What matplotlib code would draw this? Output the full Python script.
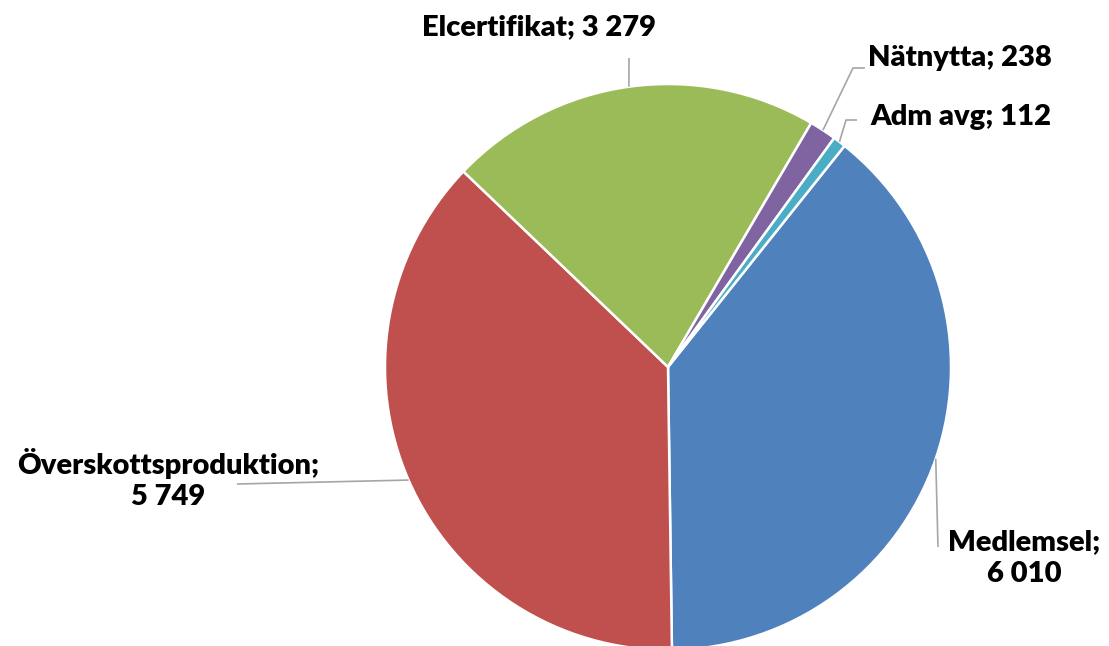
import numpy as np
import matplotlib.pyplot as plt

labels = ['Medlemsel', 'Överskottsproduktion', 'Elcertifikat', 'Nätnytta', 'Adm avg']
values = [6010, 5749, 3279, 238, 112]
value_text = ['6 010', '5 749', '3 279', '238', '112']
colors = ['#4F81BD', '#C0504D', '#9BBB59', '#8064A2', '#4BACC6']

W, H = 1109, 646
cx, cy, R = 668, H - 367, 283
start = 51.4

fig = plt.figure(figsize=(W / 100, H / 100), dpi=100)
ax = fig.add_axes((0, 0, 1, 1))

wedges, _ = ax.pie(values, colors=colors, startangle=start, counterclock=False,
                   center=(cx, cy), radius=R, frame=True,
                   wedgeprops=dict(edgecolor='white', linewidth=1.8))
ax.set_xlim(0, W)
ax.set_ylim(0, H)
ax.set_aspect('equal')
ax.axis('off')

font = dict(family=['Lato', 'DejaVu Sans'], fontweight='heavy', fontsize=21, color='black')
lc = '#A6A6A6'


def rim(w):
    a = np.deg2rad((w.theta1 + w.theta2) / 2)
    return cx + R * np.cos(a), cy + R * np.sin(a)


# label layout: (text, x, y, ha, leader path after the rim point)
layout = [
    (f'{labels[0]};\n{value_text[0]}', 1024, H - 558, 'center', [(938, H - 547)]),
    (f'{labels[1]};\n{value_text[1]}', 168, H - 479, 'center', [(237, H - 484)]),
    (f'{labels[2]}; {value_text[2]}', 539, H - 27, 'center', [(629, H - 58)]),
    (f'{labels[3]}; {value_text[3]}', 868, H - 58, 'left', [(853, H - 68), (865, H - 68)]),
    (f'{labels[4]}; {value_text[4]}', 870, H - 117, 'left', [(846, H - 120), (857, H - 120)]),
]

for w, (txt, tx, ty, ha, path) in zip(wedges, layout):
    x0, y0 = rim(w)
    xs = [x0] + [p[0] for p in path]
    ys = [y0] + [p[1] for p in path]
    ax.plot(xs, ys, color=lc, lw=1.2, solid_capstyle='butt')
    ax.text(tx, ty, txt, ha=ha, va='center', linespacing=1.25, **font)

fig.savefig('out.png', dpi=100)
